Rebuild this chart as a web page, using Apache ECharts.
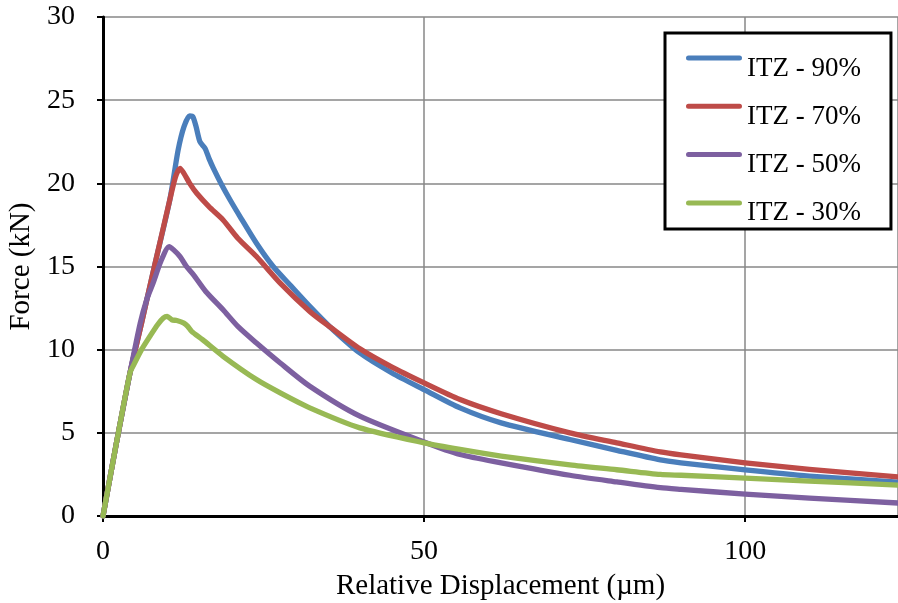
<!DOCTYPE html>
<html>
<head>
<meta charset="utf-8">
<script src="https://cdn.jsdelivr.net/npm/echarts@6/dist/echarts.min.js"></script>
<style>
  html, body { margin: 0; padding: 0; background: #fff; }
  #container { width: 898px; height: 603px; }
</style>
</head>
<body>
<div id="container"></div>
<script>
// series names, in legend order
var seriesNames = ['ITZ - 90%', 'ITZ - 70%', 'ITZ - 50%', 'ITZ - 30%'];
var seriesColors = ['#4a7ebb', '#be4b48', '#7d60a0', '#98b954'];

// [displacement (µm), force (kN)]
var itz90 = [
    [0, 0], [2, 4.2], [4.2, 8.6], [6, 11.6], [8, 15.0], [10.4, 19.0], [11.7, 22.0],
    [12.6, 23.4], [13.5, 24.05], [14.0, 24.0], [14.5, 23.4], [15.1, 22.5], [15.9, 22.1],
    [16.5, 21.5], [17.2, 20.9], [18.5, 19.9], [19.8, 19.0], [21.5, 17.9], [23.9, 16.4],
    [26.5, 15.0], [29.1, 13.9], [32.2, 12.6], [35.4, 11.35], [40, 9.8], [45, 8.6],
    [50, 7.6], [55.6, 6.5], [62, 5.6], [72.7, 4.6], [80, 3.95], [86.8, 3.37],
    [90, 3.2], [100, 2.77], [110, 2.4], [123.8, 2.04]
];
var itz70 = [
    [0, 0], [2, 4.2], [4.2, 8.6], [6, 11.6], [8, 15.0], [10.4, 19.0], [11.3, 20.4],
    [12.0, 20.9], [12.6, 20.6], [13.5, 20.0], [14.6, 19.4], [16.5, 18.6], [18.7, 17.8],
    [21, 16.7], [23.9, 15.6], [27.6, 14.0], [32.2, 12.3], [35.4, 11.35], [40, 10.05],
    [45, 8.95], [50, 8.0], [55.6, 7.0], [62, 6.15], [72.7, 5.0], [80, 4.4], [86.8, 3.85],
    [90, 3.67], [100, 3.2], [110, 2.8], [123.8, 2.35]
];
var itz50 = [
    [0, 0], [2, 4.2], [4.2, 8.6], [5.8, 11.6], [6.8, 13.0], [7.8, 14.0], [9, 15.3],
    [10.3, 16.2], [11.0, 16.0], [12.0, 15.6], [13, 15.0], [14.1, 14.5], [16, 13.5],
    [18.7, 12.4], [21, 11.4], [23.9, 10.4], [27.6, 9.2], [32.2, 7.8], [40, 6.0],
    [50, 4.45], [55.6, 3.7], [62, 3.2], [72.7, 2.45], [80, 2.05], [86.8, 1.7],
    [90, 1.6], [100, 1.32], [110, 1.08], [123.8, 0.78]
];
var itz30 = [
    [0, 0], [2, 4.2], [4.2, 8.6], [4.8, 9.1], [6, 10.0], [7.3, 10.8], [8.5, 11.5],
    [9.4, 11.9], [10.0, 12.0], [10.7, 11.8], [11.5, 11.75], [12.6, 11.6], [13.2, 11.4],
    [13.8, 11.1], [15.5, 10.6], [18.7, 9.6], [23.9, 8.2], [27.6, 7.4], [32.2, 6.5],
    [40, 5.3], [50, 4.4], [55.6, 4.0], [62, 3.6], [72.7, 3.07], [80, 2.78], [86.8, 2.5],
    [90, 2.45], [100, 2.28], [110, 2.1], [123.8, 1.86]
];
var seriesData = [itz90, itz70, itz50, itz30];

// axis ranges and tick steps
var xMin = 0, xMax = 123.8, xStep = 50;
var yMin = 0, yMax = 30, yStep = 5;

var font = '"Liberation Serif", "Times New Roman", serif';

// legend swatch: rounded bar at the top, an empty stretch below it so the
// label sits lower than the bar (as in the original legend)
var legendSwatch = 'path://M2.5,0 L53.5,0 A2.5,2.5 0 0 1 53.5,5 L2.5,5 A2.5,2.5 0 0 1 2.5,0 Z M0,26 L56,26';

var myChart = echarts.init(document.getElementById('container'));

function buildSeries() {
    return seriesNames.map(function (name, i) {
        return {
            name: name,
            type: 'line',
            data: seriesData[i],
            showSymbol: false,
            symbol: 'none',
            smooth: 0.25,
            color: seriesColors[i],
            lineStyle: { width: 5.3, color: seriesColors[i], cap: 'round', join: 'round' },
            z: 2 + i
        };
    });
}

var option = {
    animation: false,
    backgroundColor: '#fff',
    textStyle: { fontFamily: font },
    grid: { left: 103, right: 0, top: 17, bottom: 87, containLabel: false, outerBoundsMode: 'none' },
    legend: {
        orient: 'vertical',
        left: 665,
        top: 33,
        padding: [22, 30, 2, 21],
        itemGap: 21.3,
        itemWidth: 56,
        itemHeight: 26,
        itemTextGap: 3,
        icon: legendSwatch,
        symbolKeepAspect: false,
        itemStyle: { borderWidth: 0 },
        backgroundColor: '#fff',
        borderColor: '#000',
        borderWidth: 3,
        borderRadius: 0,
        data: seriesNames,
        textStyle: { fontFamily: font, fontSize: 27, color: '#000' }
    },
    xAxis: [{
        type: 'value',
        min: xMin,
        max: xMax,
        interval: xStep,
        name: 'Relative Displacement (\u00b5m)',
        nameLocation: 'middle',
        nameGap: 56,
        nameTextStyle: { fontFamily: font, fontSize: 29, color: '#000' },
        axisLine: { show: true, onZero: false, lineStyle: { color: '#000', width: 3 } },
        axisTick: { show: true, inside: false, length: 6, lineStyle: { color: '#000', width: 2 } },
        axisLabel: { fontFamily: font, fontSize: 28, color: '#000', margin: 22, showMaxLabel: false },
        splitLine: { show: true, lineStyle: { color: '#878787', width: 1.5 } }
    }, {
        type: 'value',
        position: 'top',
        min: xMin,
        max: xMax,
        interval: xStep,
        axisLine: { show: true, lineStyle: { color: '#000', width: 3 } },
        axisTick: { show: false },
        axisLabel: { show: false },
        splitLine: { show: false }
    }],
    yAxis: {
        type: 'value',
        min: yMin,
        max: yMax,
        interval: yStep,
        name: 'Force (kN)',
        nameLocation: 'middle',
        nameGap: 64,
        nameTextStyle: { fontFamily: font, fontSize: 29, color: '#000' },
        axisLine: { show: true, onZero: false, lineStyle: { color: '#000', width: 3 } },
        axisTick: { show: true, inside: false, length: 6, lineStyle: { color: '#000', width: 2 } },
        axisLabel: { fontFamily: font, fontSize: 28, color: '#000', margin: 28 },
        splitLine: { show: true, lineStyle: { color: '#878787', width: 1.5 } }
    },
    series: buildSeries()
};

myChart.setOption(option);
</script>
</body>
</html>
